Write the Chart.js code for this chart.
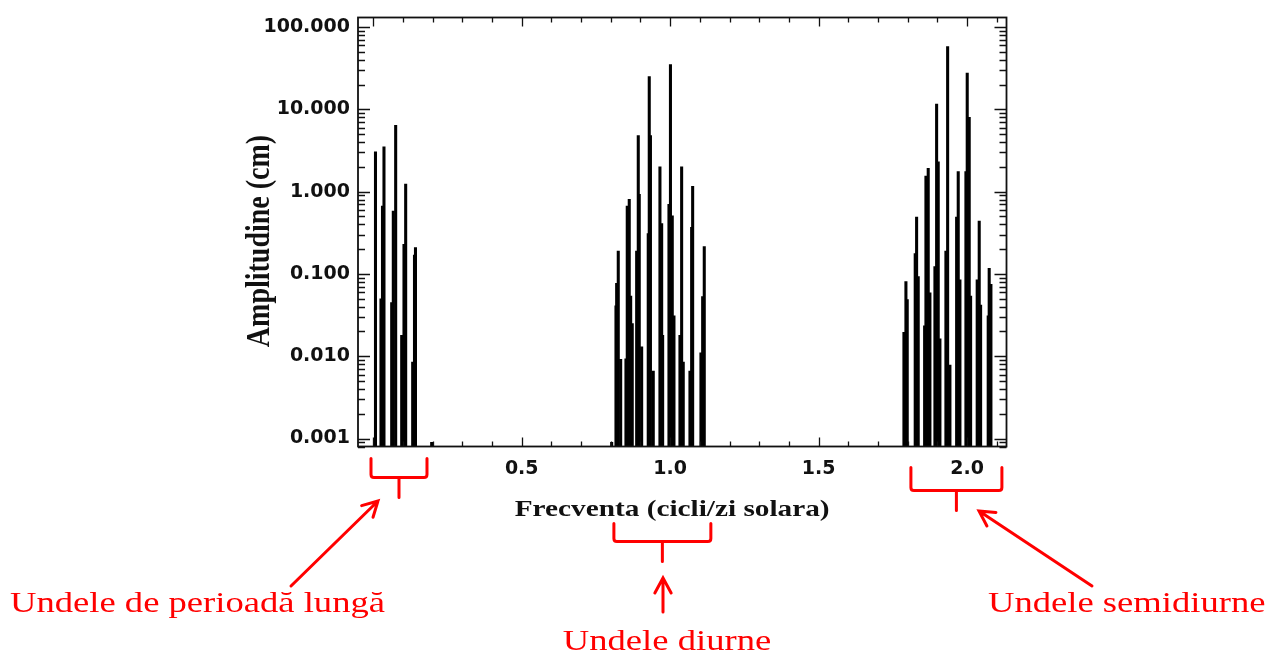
<!DOCTYPE html>
<html>
<head>
<meta charset="utf-8">
<script src="https://cdn.jsdelivr.net/npm/chart.js@4.4.1/dist/chart.umd.min.js"></script>
<style>
  html, body { margin: 0; padding: 0; background: #ffffff; }
  #wrap { width: 1281px; height: 658px; }
</style>
</head>
<body>
<div id="wrap"><canvas id="c" width="1281" height="658"></canvas></div>
<script>
// Tidal amplitude spectrum: frequency (cycles / solar day) vs amplitude (cm)

// Long-period band
const longFreq = [0.0074, 0.0259, 0.0310, 0.0360, 0.0620, 0.0674, 0.0754, 0.0957, 0.1034, 0.1091, 0.1327, 0.1388, 0.1421, 0.1967];
const longAmp  = [3.05, 0.05, 0.67, 3.5, 0.045, 0.58, 6.4, 0.018, 0.23, 1.24, 0.0085, 0.17, 0.21, 0.0009];

// Diurnal band
const diurnalFreq = [0.8030, 0.8175, 0.8198, 0.8252, 0.8333, 0.8511, 0.8555, 0.8622, 0.8670, 0.8723,
                     0.8872, 0.8926, 0.8959, 0.9040, 0.9262, 0.9296, 0.9336, 0.9431, 0.9656, 0.9714,
                     0.9747, 0.9960, 1.0010, 1.0071, 1.0128, 1.0330, 1.0387, 1.0441, 1.0667, 1.0724,
                     1.0758, 1.1037, 1.1095, 1.1149];
const diurnalAmp  = [0.0009, 0.041, 0.077, 0.19, 0.0092, 0.0093, 0.67, 0.81, 0.054, 0.025,
                     0.19, 4.8, 0.93, 0.013, 0.31, 25, 4.8, 0.0066, 2.0, 0.41,
                     0.018, 0.70, 35, 0.51, 0.031, 0.018, 2.0, 0.0085, 0.0066, 0.37,
                     1.16, 0.011, 0.053, 0.215];

// Semidiurnal band
const semiFreq = [1.7875, 1.7942, 1.7986, 1.8255, 1.8302, 1.8356, 1.8572, 1.8616, 1.8693, 1.8750,
                  1.8919, 1.8976, 1.9030, 1.9087, 1.9289, 1.9347, 1.9424, 1.9650, 1.9704, 1.9761,
                  1.9963, 2.0007, 2.0074, 2.0121, 2.0343, 2.0411, 2.0458, 2.0714, 2.0747, 2.0805];
const semiAmp  = [0.0196, 0.081, 0.049, 0.177, 0.49, 0.093, 0.0235, 1.55, 1.93, 0.059,
                  0.123, 11.6, 2.3, 0.0163, 0.19, 58, 0.0078, 0.49, 1.76, 0.085,
                  1.76, 27.6, 8.0, 0.054, 0.085, 0.44, 0.042, 0.031, 0.117, 0.075];

// Axis tick labels
const xTickValues = [0.5, 1.0, 1.5, 2.0];
const yTickValues = [0.001, 0.01, 0.1, 1, 10, 100];

// Axis ranges
const X_MIN = -0.0515, X_MAX = 2.133;
const Y_MIN = 0.0008, Y_MAX = 131;

// Band labels and the frequency span each bracket covers
const bandLabels = ['Undele de perioadă lungă', 'Undele diurne', 'Undele semidiurne'];
const bandSpans  = [[-0.0077, 0.1809], [0.8105, 1.1371], [1.8110, 2.1175]];

const toPoints = (fs, as) => fs.map((f, i) => ({ x: f, y: as[i] }));

const RED = '#ff0000';
const INK = '#111111';

// Frame with inward major/minor ticks on all four sides
const frameTicks = {
  id: 'frameTicks',
  afterDatasetsDraw(chart) {
    const { ctx, chartArea: a, scales: { x, y } } = chart;
    ctx.save();
    ctx.strokeStyle = INK;
    ctx.lineWidth = 1.8;
    ctx.strokeRect(a.left, a.top, a.right - a.left, a.bottom - a.top);
    ctx.lineWidth = 1.3;
    ctx.beginPath();
    // y: decades and 2..9 minors
    for (let d = -4; d <= 3; d++) {
      for (let k = 1; k <= 9; k++) {
        const v = k * Math.pow(10, d);
        if (v < Y_MIN || v > Y_MAX) continue;
        const py = Math.round(y.getPixelForValue(v)) + 0.5;
        const len = k === 1 ? 12 : 7;
        ctx.moveTo(a.left, py); ctx.lineTo(a.left + len, py);
        ctx.moveTo(a.right, py); ctx.lineTo(a.right - len, py);
      }
    }
    // x: every 0.5 major, every 0.1 minor
    for (let i = 0; i <= 21; i++) {
      const v = i / 10;
      if (v < X_MIN || v > X_MAX) continue;
      const px = Math.round(x.getPixelForValue(v)) + 0.5;
      const len = i % 5 === 0 ? 9 : 5;
      ctx.moveTo(px, a.bottom); ctx.lineTo(px, a.bottom - len);
      ctx.moveTo(px, a.top); ctx.lineTo(px, a.top + len);
    }
    ctx.stroke();
    ctx.restore();
  }
};

// Axis titles and band annotations
function stretchedText(ctx, text, x, y, font, color, align, sx) {
  ctx.save();
  ctx.font = font;
  ctx.fillStyle = color;
  ctx.textAlign = align;
  ctx.textBaseline = 'alphabetic';
  ctx.translate(x, y);
  ctx.scale(sx, 1);
  ctx.fillText(text, 0, 0);
  ctx.restore();
}

function arrow(ctx, x1, y1, x2, y2) {
  const ang = Math.atan2(y2 - y1, x2 - x1);
  const head = 17, spread = 0.5;
  ctx.beginPath();
  ctx.moveTo(x1, y1); ctx.lineTo(x2, y2);
  ctx.moveTo(x2 - head * Math.cos(ang - spread), y2 - head * Math.sin(ang - spread));
  ctx.lineTo(x2, y2);
  ctx.lineTo(x2 - head * Math.cos(ang + spread), y2 - head * Math.sin(ang + spread));
  ctx.stroke();
}

function bracket(ctx, xl, xr, yTop, yBar, yStem) {
  const xc = (xl + xr) / 2;
  ctx.beginPath();
  ctx.moveTo(xl, yTop); ctx.lineTo(xl, yBar - 3);
  ctx.quadraticCurveTo(xl, yBar, xl + 3, yBar);
  ctx.lineTo(xr - 3, yBar);
  ctx.quadraticCurveTo(xr, yBar, xr, yBar - 3);
  ctx.lineTo(xr, yTop);
  ctx.moveTo(xc, yBar); ctx.lineTo(xc, yStem);
  ctx.stroke();
}

const annotations = {
  id: 'annotations',
  afterDraw(chart) {
    const { ctx, chartArea: a, scales: { x } } = chart;
    const SX = 1.22;

    // axis titles
    stretchedText(ctx, 'Frecventa (cicli/zi solara)', x.getPixelForValue(1.0) + 2, a.bottom + 69,
      'bold 24px "Liberation Serif", "Times New Roman", serif', INK, 'center', SX);
    ctx.save();
    ctx.font = 'bold 28px "Liberation Serif", "Times New Roman", serif';
    ctx.fillStyle = INK;
    ctx.textAlign = 'center';
    ctx.textBaseline = 'middle';
    ctx.translate(a.left - 98, (a.top + a.bottom) / 2 + 9);
    ctx.rotate(-Math.PI / 2);
    ctx.scale(1, 1.2);
    ctx.fillText('Amplitudine (cm)', 0, 0);
    ctx.restore();

    // brackets under each band
    ctx.save();
    ctx.strokeStyle = RED;
    ctx.lineWidth = 3;
    ctx.lineCap = 'round';
    const b = a.bottom;
    const br = [
      [bandSpans[0], b + 12, b + 31, b + 51],
      [bandSpans[1], b + 77, b + 95, b + 115],
      [bandSpans[2], b + 21, b + 44, b + 64]
    ];
    br.forEach(([span, t, m, s]) => {
      bracket(ctx, x.getPixelForValue(span[0]), x.getPixelForValue(span[1]), t, m, s);
    });

    // arrows from labels to brackets
    arrow(ctx, 291, 586, 378, 501);
    arrow(ctx, 663, 612, 663, 578);
    arrow(ctx, 1092, 586, 979, 511);
    ctx.restore();

    // band labels
    const f = '30px "Liberation Serif", "Times New Roman", serif';
    stretchedText(ctx, bandLabels[0], 10, 612, f, RED, 'left', SX);
    stretchedText(ctx, bandLabels[1], 667, 650, f, RED, 'center', SX);
    stretchedText(ctx, bandLabels[2], 988, 612, f, RED, 'left', SX);
  }
};

const barStyle = { backgroundColor: '#000000', borderWidth: 0, barThickness: 2.4, grouped: false, base: Y_MIN };

new Chart(document.getElementById('c'), {
  type: 'bar',
  data: {
    datasets: [
      Object.assign({ label: bandLabels[0], data: toPoints(longFreq, longAmp) }, barStyle),
      Object.assign({ label: bandLabels[1], data: toPoints(diurnalFreq, diurnalAmp) }, barStyle),
      Object.assign({ label: bandLabels[2], data: toPoints(semiFreq, semiAmp) }, barStyle)
    ]
  },
  options: {
    responsive: false,
    animation: false,
    events: [],
    layout: { padding: { top: 10, right: 274.5, left: 0, bottom: 151.5 } },
    plugins: { legend: { display: false }, tooltip: { enabled: false } },
    scales: {
      x: {
        type: 'linear',
        offset: false,
        min: X_MIN,
        max: X_MAX,
        grid: { display: false, drawTicks: false, offset: false },
        border: { display: false },
        afterBuildTicks: s => { s.ticks = xTickValues.map(v => ({ value: v })); },
        afterFit: s => { s.height = 60; },
        ticks: {
          padding: 13,
          maxRotation: 0,
          color: INK,
          font: { family: '"DejaVu Sans", sans-serif', weight: 'bold', size: 19, lineHeight: 1 },
          callback: v => Number(v).toFixed(1)
        }
      },
      y: {
        type: 'logarithmic',
        min: Y_MIN,
        max: Y_MAX,
        grid: { display: false, drawTicks: false },
        border: { display: false },
        afterBuildTicks: s => { s.ticks = yTickValues.map(v => ({ value: v })); },
        afterFit: s => { s.width = 358; },
        ticks: {
          padding: 8,
          color: INK,
          font: { family: '"DejaVu Sans", sans-serif', weight: 'bold', size: 19, lineHeight: 1 },
          callback: v => Number(v).toFixed(3)
        }
      }
    }
  },
  plugins: [frameTicks, annotations]
});
</script>
</body>
</html>
